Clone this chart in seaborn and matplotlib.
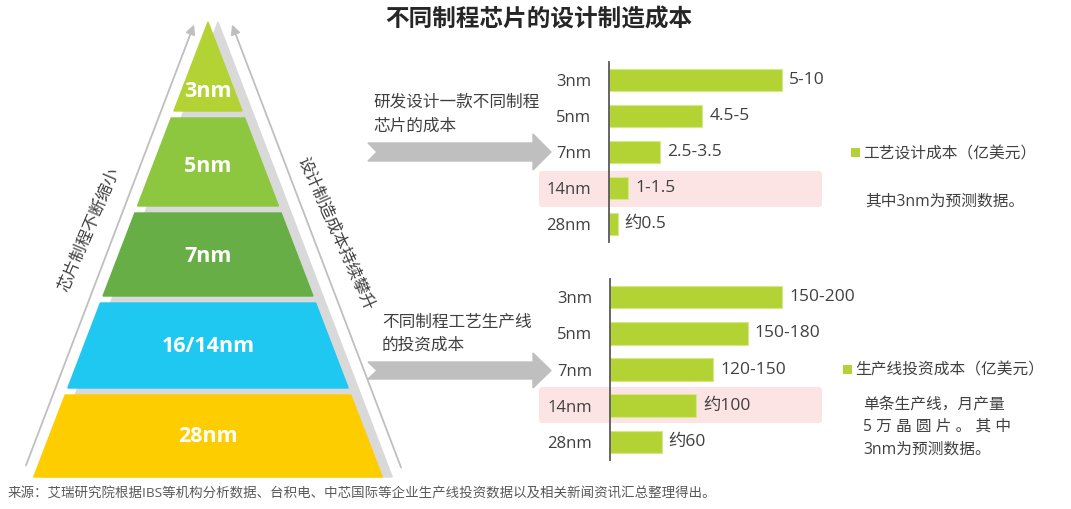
import matplotlib
matplotlib.use("Agg")
import matplotlib.pyplot as plt
from matplotlib.patches import Polygon, FancyBboxPatch, Rectangle
import seaborn as sns
import pandas as pd

# ---------------- data ----------------
nodes = ["3nm", "5nm", "7nm", "14nm", "28nm"]
design_cost = [10, 5.4, 2.95, 1.1, 0.5]          # 亿美元 (bar lengths)
design_labels = ["5-10", "4.5-5", "2.5-3.5", "1-1.5", "约0.5"]
line_cost = [200, 160, 120, 100, 60]              # 亿美元
line_labels = ["150-200", "150-180", "120-150", "约100", "约60"]

pyramid_labels = ["3nm", "5nm", "7nm", "16/14nm", "28nm"]
pyramid_colors = ["#b3d335", "#8dc63f", "#66ae45", "#1ec8f0", "#fecd00"]

title = "不同制程芯片的设计制造成本"
source = "来源：艾瑞研究院根据IBS等机构分析数据、台积电、中芯国际等企业生产线投资数据以及相关新闻资讯汇总整理得出。"

# ---------------- layout (pixels) ----------------
tier_top = [22, 118, 213, 303, 395]
tier_bot = [111, 206, 296, 388, 477]
label_y = [91, 166, 257, 347, 437]

# ---------------- style ----------------
sns.set_theme(style="white")
plt.rcParams["font.family"] = ["Open Sans", "Noto Sans CJK SC", "DejaVu Sans"]

W, H = 1071, 509
fig = plt.figure(figsize=(W / 100, H / 100), dpi=100)
fig.patch.set_facecolor("white")

bg = fig.add_axes([0, 0, 1, 1])
bg.set_xlim(0, W)
bg.set_ylim(H, 0)
bg.axis("off")

TXT = "#404040"
BAR = "#b3d334"
GREY_ARROW = "#bfbfbf"

# ---- pyramid ----
apex_x, apex_y, slope = 208, 22, 0.383
shadow_dx = 10
sb = 477
bg.add_patch(Polygon([(apex_x + shadow_dx, apex_y),
                      (apex_x + shadow_dx + slope * (sb - apex_y), sb),
                      (apex_x + shadow_dx - slope * (sb - apex_y), sb)],
                     closed=True, color="#d9d9d9", zorder=1))
for lab, col, t, b, ly in zip(pyramid_labels, pyramid_colors, tier_top, tier_bot, label_y):
    lt = apex_x - slope * (t - apex_y)
    rt = apex_x + slope * (t - apex_y)
    lb = apex_x - slope * (b - apex_y)
    rb = apex_x + slope * (b - apex_y)
    bg.add_patch(Polygon([(lt, t), (rt, t), (rb, b), (lb, b)], closed=True,
                         color=col, zorder=2))
    bg.text(apex_x, ly, lab, color="white",
            fontsize=15.5, fontweight="bold", ha="center", va="center", zorder=3)

# side arrows
bg.annotate("", xy=(195, 22), xytext=(25, 468),
            arrowprops=dict(arrowstyle="-|>", color="#bfbfbf", lw=1.3,
                            mutation_scale=14), zorder=1)
bg.annotate("", xy=(231, 22), xytext=(402, 470),
            arrowprops=dict(arrowstyle="-|>", color="#bfbfbf", lw=1.3,
                            mutation_scale=14), zorder=1)
bg.text(90, 230, "芯片制程不断缩小", rotation=67, rotation_mode="anchor",
        ha="center", va="center", fontsize=12, color=TXT)
bg.text(335, 234, "设计制造成本持续攀升", rotation=-66, rotation_mode="anchor",
        ha="center", va="center", fontsize=12, color=TXT)

# title
bg.text(539, 20, title, ha="center", va="center", fontsize=17,
        fontweight="bold", color="#262626")

# block arrows
def block_arrow(y_top, y_bot, h_top, h_bot):
    yc = (y_top + y_bot) / 2
    pts = [(368, y_top), (533, y_top), (533, h_top), (551, yc), (533, h_bot),
           (533, y_bot), (368, y_bot), (377, yc)]
    bg.add_patch(Polygon(pts, closed=True, color=GREY_ARROW, zorder=2))

block_arrow(143, 161, 134, 170)
block_arrow(362, 379, 353, 388)

bg.text(373, 103, "研发设计一款不同制程", ha="left", va="center", fontsize=12, color=TXT)
bg.text(373, 127, "芯片的成本", ha="left", va="center", fontsize=12, color=TXT)
bg.text(382, 323, "不同制程工艺生产线", ha="left", va="center", fontsize=12, color=TXT)
bg.text(382, 346, "的投资成本", ha="left", va="center", fontsize=12, color=TXT)

# pink highlights
for y0, y1 in [(171, 207), (387, 423)]:
    bg.add_patch(FancyBboxPatch((539, y0), 283, y1 - y0,
                                boxstyle="round,pad=0,rounding_size=3",
                                color="#fce4e5", lw=0, zorder=1))

# legends / notes
bg.add_patch(Rectangle((851, 148), 9, 9, color=BAR, lw=0))
bg.text(863, 154, "工艺设计成本（亿美元）", ha="left", va="center", fontsize=11.3, color=TXT)
bg.text(865, 202, "其中3nm为预测数据。", ha="left", va="center", fontsize=11.3, color=TXT)
bg.add_patch(Rectangle((843, 365), 9, 9, color=BAR, lw=0))
bg.text(855, 370, "生产线投资成本（亿美元）", ha="left", va="center", fontsize=11.3, color=TXT)
bg.text(863, 405, "单条生产线，月产量", ha="left", va="center", fontsize=11.3, color=TXT)
bg.text(863, 427, "5 万 晶 圆 片 。 其 中", ha="left", va="center", fontsize=11.3, color=TXT)
bg.text(863, 450, "3nm为预测数据。", ha="left", va="center", fontsize=11.3, color=TXT)

bg.text(8, 494, source, ha="left", va="center", fontsize=9.7, color="#595959")

# ---------------- bar charts ----------------
def px_axes(x0, y0, x1, y1):
    return fig.add_axes([x0 / W, 1 - y1 / H, (x1 - x0) / W, (y1 - y0) / H])

def bar_panel(ax, values, labels, xmax):
    df = pd.DataFrame({"node": nodes, "value": values})
    sns.barplot(data=df, x="value", y="node", orient="h", color=BAR,
                width=0.62, saturation=1, ax=ax, edgecolor="#d4e88a", linewidth=0.8)
    ax.set_facecolor("none")
    ax.set_xlim(0, xmax)
    ax.set_ylim(4.5, -0.5)
    for s in ["top", "right", "bottom"]:
        ax.spines[s].set_visible(False)
    ax.spines["left"].set_color("#595959")
    ax.spines["left"].set_linewidth(1.3)
    ax.set_xticks([])
    ax.set_xlabel("")
    ax.set_ylabel("")
    ax.tick_params(axis="y", length=0, pad=13, labelsize=12, labelcolor=TXT)
    ax.bar_label(ax.containers[0], labels=labels, padding=5, fontsize=12.5, color=TXT)

ax1 = px_axes(609, 62, 819, 242)
bar_panel(ax1, design_cost, design_labels, 12.14)
ax2 = px_axes(610, 279, 820, 460)
bar_panel(ax2, line_cost, line_labels, 244)

fig.savefig("out.png", dpi=100)
